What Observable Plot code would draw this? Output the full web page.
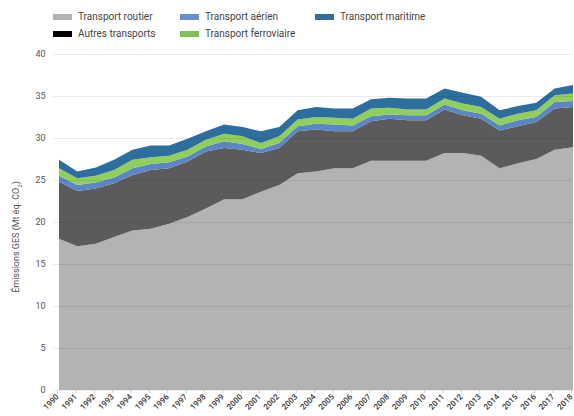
<!DOCTYPE html>
<html><head><meta charset="utf-8">
<script src="https://cdn.jsdelivr.net/npm/d3@7"></script>
<script src="https://cdn.jsdelivr.net/npm/@observablehq/plot@0.6"></script>
<style>
body{margin:0;background:#fff;font-family:Roboto,"Liberation Sans",sans-serif;}
#wrap{position:relative;width:574px;height:416px;}
#legend{position:relative;height:46px;}
.item{position:absolute;display:flex;align-items:center;font-size:10px;color:#444;white-space:nowrap;}
.sw{width:19px;height:6px;margin-right:6px;}
#ylab{position:absolute;left:17px;top:237px;transform:translate(-50%,-50%) rotate(-90deg);font-size:9px;color:#555;white-space:nowrap;}
</style></head>
<body><div id="wrap"><div id="legend"></div><div id="chart"></div><div id="ylab">Émissions GES (Mt éq. CO<sub style="font-size:6px">2</sub>)</div></div>
<script>
const years = d3.range(1990, 2019);
const seriesNames = ["Transport routier","Autres transports","Transport aérien","Transport ferroviaire","Transport maritime"];
const routier    = [18.0,17.1,17.4,18.2,19.0,19.2,19.8,20.6,21.6,22.7,22.7,23.6,24.4,25.8,26.0,26.4,26.4,27.3,27.3,27.3,27.3,28.2,28.2,27.9,26.4,27.0,27.5,28.6,28.9];
const autres     = [6.8,6.6,6.6,6.4,6.6,7.0,6.6,6.6,6.8,6.1,5.9,4.6,4.4,5.0,5.0,4.4,4.4,4.7,5.0,4.8,4.8,5.2,4.5,4.4,4.5,4.4,4.4,4.9,4.8];
const aerien     = [0.7,0.7,0.7,0.7,0.8,0.7,0.7,0.6,0.6,0.8,0.7,0.5,0.6,0.6,0.7,0.8,0.7,0.6,0.5,0.6,0.6,0.6,0.6,0.6,0.6,0.7,0.6,0.8,0.7];
const ferroviaire= [0.9,0.8,0.8,0.9,1.0,0.8,0.8,0.8,0.8,0.9,0.9,0.7,0.8,0.8,0.8,0.8,0.8,0.9,0.8,0.7,0.7,0.7,0.8,0.8,0.8,0.8,0.8,0.8,0.9];
const maritime   = [1.0,0.8,1.0,1.2,1.2,1.4,1.2,1.3,1.0,1.1,1.1,1.4,1.1,1.1,1.2,1.1,1.2,1.1,1.2,1.3,1.3,1.2,1.3,1.2,1.0,0.9,0.9,0.8,1.0];
const yTicks = [0,5,10,15,20,25,30,35,40];
const areaColors = ["#b3b3b3","#5b5b5b","#5b85c4","#8fcf5a","#2e6e9e"];
const legendColors = ["#b3b3b3","#000000","#6a8fcf","#7fbf5c","#2f6fa0"];

const values = [routier, autres, aerien, ferroviaire, maritime];
const data = [];
seriesNames.forEach((s, i) => years.forEach((y, j) => data.push({year: y, series: s, value: values[i][j]})));

// legend
const legendPos = [[53,11],[53,28],[180,11],[180,28],[315,11]];
const legendOrder = ["Transport routier","Autres transports","Transport aérien","Transport ferroviaire","Transport maritime"];
const lg = document.getElementById("legend");
legendOrder.forEach((s, k) => {
  const i = seriesNames.indexOf(s);
  const d = document.createElement("div");
  d.className = "item";
  d.style.left = legendPos[k][0] + "px";
  d.style.top = legendPos[k][1] + "px";
  d.innerHTML = `<span class="sw" style="background:${legendColors[i]}"></span>${s}`;
  lg.appendChild(d);
});

const chart = Plot.plot({
  width: 574, height: 370,
  marginLeft: 59, marginRight: 1, marginTop: 8, marginBottom: 26,
  style: {fontFamily: "Roboto, 'Liberation Sans', sans-serif", color: "#555", background: "transparent"},
  x: {domain: [1990, 2018]},
  y: {domain: [0, 40]},
  color: {domain: seriesNames, range: areaColors},
  marks: [
    Plot.areaY(data, {x: "year", y: "value", fill: "series", order: seriesNames}),
    Plot.gridY(yTicks, {stroke: "#000", strokeOpacity: 0.08, strokeWidth: 1.2, insetLeft: -6}),
    Plot.axisY(yTicks, {tickSize: 0, tickPadding: 14, fontSize: 9, label: null}),
    Plot.axisX(years, {tickFormat: d => String(d), tickRotate: -45, tickSize: 3, tickPadding: 2, fontSize: 8, fontWeight: 500, dx: -2, stroke: "#ccc", fill: "#333", label: null})
  ]
});
document.getElementById("chart").appendChild(chart);
</script></body></html>
